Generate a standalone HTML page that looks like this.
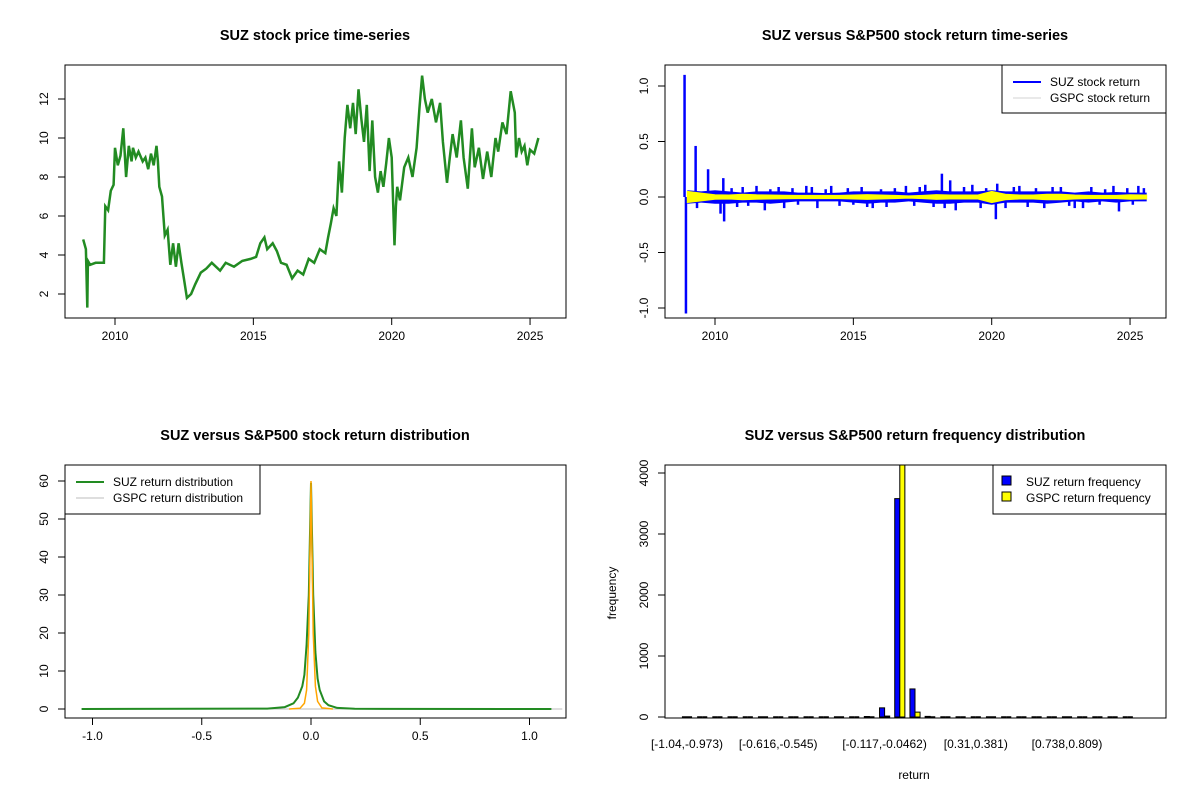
<!DOCTYPE html>
<html><head><meta charset="utf-8"><style>
body{margin:0;background:#fff}
svg{display:block;font-family:"Liberation Sans",Arial,sans-serif}
</style></head><body>
<svg id="s" width="1200" height="800" xmlns="http://www.w3.org/2000/svg"></svg>
<script>
// ---- Data ----
const priceDates=[2008.85,2008.95,2009.0,2009.02,2009.1,2009.3,2009.6,2009.65,2009.75,2009.85,2009.95,2010.0,2010.1,2010.2,2010.3,2010.4,2010.5,2010.6,2010.65,2010.75,2010.85,2011.0,2011.1,2011.2,2011.3,2011.4,2011.5,2011.55,2011.6,2011.7,2011.8,2011.9,2012.0,2012.1,2012.2,2012.3,2012.4,2012.5,2012.6,2012.75,2012.9,2013.1,2013.3,2013.5,2013.8,2014.0,2014.3,2014.6,2014.9,2015.1,2015.25,2015.4,2015.5,2015.7,2015.85,2016.0,2016.2,2016.4,2016.6,2016.8,2017.0,2017.2,2017.4,2017.6,2017.7,2017.8,2017.9,2018.0,2018.1,2018.2,2018.3,2018.4,2018.5,2018.6,2018.7,2018.8,2018.9,2019.0,2019.1,2019.2,2019.3,2019.4,2019.5,2019.6,2019.7,2019.8,2019.9,2020.0,2020.1,2020.15,2020.2,2020.3,2020.45,2020.6,2020.75,2020.9,2021.0,2021.1,2021.2,2021.3,2021.45,2021.6,2021.75,2021.85,2022.0,2022.1,2022.2,2022.35,2022.5,2022.6,2022.75,2022.9,2023.0,2023.15,2023.3,2023.45,2023.6,2023.75,2023.85,2024.0,2024.15,2024.3,2024.45,2024.5,2024.6,2024.7,2024.8,2024.9,2025.0,2025.15,2025.3,2025.45,2025.6];
const priceVals=[4.8,4.3,1.3,3.7,3.5,3.6,3.6,6.5,6.3,7.3,7.6,9.5,8.6,9.1,10.5,8.0,9.6,8.8,9.5,9.0,9.3,8.8,9.0,8.4,9.2,8.6,9.6,8.8,7.5,7.0,5.0,5.3,3.5,4.6,3.4,4.6,3.6,2.7,1.8,2.0,2.5,3.1,3.3,3.6,3.2,3.6,3.4,3.7,3.8,3.9,4.6,4.9,4.3,4.6,4.2,3.6,3.5,2.8,3.2,3.0,3.8,3.6,4.3,4.1,4.9,5.6,6.4,6.0,8.8,7.2,10.0,11.7,10.5,11.8,10.2,12.5,11.0,9.8,11.7,8.3,10.9,8.0,7.2,8.3,7.5,8.7,10.0,9.0,4.5,6.5,7.5,6.8,8.5,9.0,8.0,9.5,11.5,13.2,12.0,11.3,12.0,10.8,11.8,9.8,7.7,9.0,10.2,9.0,10.9,9.0,7.4,10.5,8.5,9.5,7.9,9.3,8.0,10.0,9.3,10.8,10.2,12.4,11.3,9.0,10.0,9.3,9.6,8.6,9.4,9.2,10.0];
const retSpikeDates=[2008.9,2008.95,2009.3,2009.35,2009.75,2010.3,2010.33,2010.2,2010.6,2010.8,2011.0,2011.2,2011.5,2011.8,2012.0,2012.3,2012.5,2012.8,2013.0,2013.3,2013.5,2013.7,2014.0,2014.2,2014.5,2014.8,2015.0,2015.3,2015.5,2015.7,2016.0,2016.2,2016.5,2016.9,2017.2,2017.4,2017.6,2017.9,2018.2,2018.3,2018.5,2018.7,2019.0,2019.3,2019.6,2019.8,2020.15,2020.2,2020.5,2020.8,2021.0,2021.3,2021.6,2021.9,2022.2,2022.5,2022.8,2023.0,2023.3,2023.6,2023.9,2024.1,2024.4,2024.6,2024.9,2025.1,2025.3,2025.5];
const retSpikeVals=[1.1,-1.05,0.46,-0.1,0.25,0.17,-0.22,-0.15,0.08,-0.09,0.09,-0.08,0.1,-0.12,0.07,0.09,-0.1,0.08,-0.07,0.1,0.09,-0.1,0.07,0.1,-0.08,0.08,-0.07,0.09,-0.09,-0.1,0.07,-0.09,0.08,0.1,-0.08,0.09,0.11,-0.09,0.21,-0.1,0.15,-0.12,0.09,0.11,-0.1,0.08,-0.2,0.12,-0.1,0.09,0.1,-0.09,0.08,-0.1,0.09,0.09,-0.08,-0.1,-0.1,0.09,-0.07,0.07,0.1,-0.13,0.08,-0.07,0.1,0.08];
const suzBandYears=[2009,2009.5,2010,2010.5,2011,2011.5,2012,2012.5,2013,2013.5,2014,2014.5,2015,2015.5,2016,2016.5,2017,2017.5,2018,2018.5,2019,2019.5,2020,2020.5,2021,2021.5,2022,2022.5,2023,2023.5,2024,2024.5,2025,2025.6];
const suzBandHi=[0.06,0.05,0.06,0.05,0.04,0.05,0.05,0.05,0.04,0.04,0.035,0.04,0.05,0.05,0.05,0.05,0.04,0.05,0.06,0.05,0.05,0.05,0.06,0.05,0.05,0.05,0.05,0.05,0.04,0.05,0.04,0.045,0.04,0.04];
const suzBandLo=[-0.06,-0.05,-0.06,-0.06,-0.05,-0.05,-0.06,-0.05,-0.04,-0.04,-0.04,-0.04,-0.05,-0.06,-0.05,-0.05,-0.04,-0.05,-0.06,-0.06,-0.05,-0.05,-0.07,-0.05,-0.05,-0.05,-0.06,-0.05,-0.04,-0.05,-0.04,-0.05,-0.04,-0.04];
const gspcBandHi=[0.05,0.035,0.02,0.018,0.025,0.02,0.018,0.016,0.014,0.014,0.014,0.014,0.018,0.022,0.018,0.014,0.01,0.014,0.022,0.018,0.018,0.018,0.05,0.025,0.018,0.018,0.025,0.025,0.018,0.014,0.014,0.014,0.02,0.018];
const densX=[-1.05,-0.2,-0.12,-0.08,-0.06,-0.04,-0.03,-0.02,-0.01,-0.005,0,0.005,0.01,0.02,0.03,0.04,0.06,0.08,0.12,0.2,1.1];
const suzDens=[0,0.1,0.5,1.5,3,6,9,17,30,45,59.5,45,30,15,8,5,2,1,0.3,0.05,0];
const gspcDensX=[-0.1,-0.05,-0.03,-0.02,-0.01,-0.005,0,0.005,0.01,0.02,0.03,0.05,0.1];
const gspcDens=[0,0.2,1.5,5,20,40,60,40,20,6,2,0.3,0];
const binLabels=["[-1.04,-0.973)","[-0.616,-0.545)","[-0.117,-0.0462)","[0.31,0.381)","[0.738,0.809)"];
const binLabelIdx=[0,6,13,19,25];
const suzFreq=[0,0,0,0,0,0,0,0,0,0,0,0,8,150,3580,460,10,0,0,0,0,0,0,0,0,0,0,0,0,0];
const gspcFreq=[0,0,0,0,0,0,0,0,0,0,0,0,0,15,4200,80,0,0,0,0,0,0,0,0,0,0,0,0,0,0];
const priceTicks=[2,4,6,8,10,12];
const yearTicks=[2010,2015,2020,2025];
const retTicks=[-1.0,-0.5,0.0,0.5,1.0];
const densYTicks=[0,10,20,30,40,50,60];
const densXTicks=[-1.0,-0.5,0.0,0.5,1.0];
const freqTicks=[0,1000,2000,3000,4000];

const s=document.getElementById('s');
const NS='http://www.w3.org/2000/svg';
function el(tag,attrs,parent,text){const e=document.createElementNS(NS,tag);for(const k in attrs)e.setAttribute(k,attrs[k]);if(text!==undefined)e.textContent=text;(parent||s).appendChild(e);return e;}
function group(name){const g=el('g',{},s);


return g;}
function box(g,x0,y0,x1,y1){const r=el('rect',{x:x0,y:y0,width:x1-x0,height:y1-y0,fill:'none',stroke:'#000','stroke-width':1},g);

}
function title(g,x,y,t){const e=el('text',{x:x,y:y,'text-anchor':'middle','font-size':14.5,'font-weight':'bold'},g,t);

}
function yAxis(g,x,ticks,sy,fmt){el('line',{x1:x,x2:x,y1:sy(ticks[0]),y2:sy(ticks[ticks.length-1]),stroke:'#000'},g);
ticks.forEach(t=>{const y=sy(t);el('line',{x1:x,x2:x-7,y1:y,y2:y,stroke:'#000'},g);
const tx=el('text',{x:x-17,y:y,'text-anchor':'middle','font-size':12,transform:`rotate(-90 ${x-17} ${y})`},g,fmt(t));

});}
function xAxis(g,y,ticks,sx,fmt){el('line',{x1:sx(ticks[0]),x2:sx(ticks[ticks.length-1]),y1:y,y2:y,stroke:'#000'},g);
ticks.forEach(t=>{const x=sx(t);el('line',{x1:x,x2:x,y1:y,y2:y+7,stroke:'#000'},g);
const tx=el('text',{x:x,y:y+22,'text-anchor':'middle','font-size':12},g,fmt(t));

});}

// ---- Panel 1: price ----
{const g=group('price-panel');
const sx=v=>115+(v-2010)*27.67, sy=v=>294-(v-2)*19.5;
title(g,315,40,'SUZ stock price time-series');
let d='';priceDates.forEach((t,i)=>{d+=(i?'L':'M')+sx(t).toFixed(1)+' '+sy(priceVals[i]).toFixed(1);});
const p=el('path',{d:d,fill:'none',stroke:'#228B22','stroke-width':2.5,'stroke-linejoin':'miter'},g);


box(g,65,65,566,318);
yAxis(g,65,priceTicks,sy,t=>String(t));
xAxis(g,318,yearTicks,sx,t=>String(t));}

// ---- Panel 2: returns ----
{const g=group('returns-panel');
const sx=v=>715+(v-2010)*27.67, sy=v=>197-v*111;
title(g,915,40,'SUZ versus S&P500 stock return time-series');
let d='M'+sx(suzBandYears[0])+' '+sy(suzBandHi[0]);
suzBandYears.forEach((t,i)=>{d+='L'+sx(t).toFixed(1)+' '+sy(suzBandHi[i]).toFixed(1);});
for(let i=suzBandYears.length-1;i>=0;i--)d+='L'+sx(suzBandYears[i]).toFixed(1)+' '+sy(suzBandLo[i]).toFixed(1);
const b=el('path',{d:d+'Z',fill:'#0000FF',stroke:'none'},g);


retSpikeDates.forEach((t,i)=>{const l=el('line',{x1:sx(t),x2:sx(t),y1:sy(0),y2:sy(retSpikeVals[i]),stroke:'#0000FF','stroke-width':2.5},g);

});
let d2='';suzBandYears.forEach((t,i)=>{d2+=(i?'L':'M')+sx(t).toFixed(1)+' '+sy(gspcBandHi[i]).toFixed(1);});
for(let i=suzBandYears.length-1;i>=0;i--)d2+='L'+sx(suzBandYears[i]).toFixed(1)+' '+sy(-gspcBandHi[i]).toFixed(1);
const y=el('path',{d:d2+'Z',fill:'#FFFF00',stroke:'#FFFF00','stroke-width':1},g);


box(g,665,65,1166,318);
yAxis(g,665,retTicks,sy,t=>t.toFixed(1));
xAxis(g,318,yearTicks,sx,t=>String(t));
const lg=el('g',{},g);


el('rect',{x:1002,y:65,width:164,height:48,fill:'#fff',stroke:'#000'},lg);
el('line',{x1:1013,x2:1041,y1:82,y2:82,stroke:'#0000FF','stroke-width':2},lg);
el('line',{x1:1013,x2:1041,y1:98,y2:98,stroke:'#d3d3d3','stroke-width':1},lg);
el('text',{x:1050,y:86,'font-size':12},lg,'SUZ stock return');
el('text',{x:1050,y:102,'font-size':12},lg,'GSPC stock return');}

// ---- Panel 3: density ----
{const g=group('density-panel');
const sx=v=>311+v*218.5, sy=v=>709-v*3.8;
title(g,315,440,'SUZ versus S&P500 stock return distribution');
el('line',{x1:sx(-1.05),x2:sx(1.15),y1:sy(0),y2:sy(0),stroke:'#bebebe'},g);
let d='';densX.forEach((t,i)=>{d+=(i?'L':'M')+sx(t).toFixed(1)+' '+sy(suzDens[i]).toFixed(1);});
const p=el('path',{d:d,fill:'none',stroke:'#228B22','stroke-width':2},g);


let d2='';gspcDensX.forEach((t,i)=>{d2+=(i?'L':'M')+sx(t).toFixed(1)+' '+sy(gspcDens[i]).toFixed(1);});
const q=el('path',{d:d2,fill:'none',stroke:'#FFA500','stroke-width':1.5},g);


box(g,65,465,566,718);
yAxis(g,65,densYTicks,sy,t=>String(t));
xAxis(g,718,densXTicks,sx,t=>t.toFixed(1));
const lg=el('g',{},g);


el('rect',{x:65,y:465,width:195,height:49,fill:'#fff',stroke:'#000'},lg);
el('line',{x1:76,x2:104,y1:482,y2:482,stroke:'#228B22','stroke-width':2},lg);
el('line',{x1:76,x2:104,y1:498,y2:498,stroke:'#bebebe','stroke-width':1},lg);
el('text',{x:113,y:486,'font-size':12},lg,'SUZ return distribution');
el('text',{x:113,y:502,'font-size':12},lg,'GSPC return distribution');}

// ---- Panel 4: histogram ----
{const g=group('frequency-panel');
const gx=i=>687+i*15.2, sy=v=>717-v*0.061;
title(g,915,440,'SUZ versus S&P500 return frequency distribution');
const cp=el('clipPath',{id:'c4'},g);el('rect',{x:665,y:465,width:501,height:253},cp);
const bars=el('g',{'clip-path':'url(#c4)'},g);
function bar(x,v,fill,name){
 if(v<=0){const l=el('line',{x1:x,x2:x+5.07,y1:sy(0),y2:sy(0),stroke:'#000','stroke-width':1.5},bars);
 
 return;}
 const r=el('rect',{x:x,y:sy(v),width:5.07,height:sy(0)-sy(v),fill:fill,stroke:'#000','stroke-width':1},bars);
 
 }
suzFreq.forEach((v,i)=>bar(gx(i)-5.07,v,'#0000FF','suz-frequency-bar'));
gspcFreq.forEach((v,i)=>bar(gx(i),v,'#FFFF00','gspc-frequency-bar'));
box(g,665,465,1166,718);
yAxis(g,665,freqTicks,sy,t=>String(t));
binLabelIdx.forEach((b,k)=>{const t=el('text',{x:gx(b),y:748,'text-anchor':'middle','font-size':12},g,binLabels[k]);

});
const xl=el('text',{x:914,y:779,'text-anchor':'middle','font-size':12},g,'return');


const yl=el('text',{x:616,y:593,'text-anchor':'middle','font-size':12,transform:'rotate(-90 616 593)'},g,'frequency');


const lg=el('g',{},g);


el('rect',{x:993,y:465,width:173,height:49,fill:'#fff',stroke:'#000'},lg);
el('rect',{x:1002,y:476,width:9,height:9,fill:'#0000FF',stroke:'#000'},lg);
el('rect',{x:1002,y:492,width:9,height:9,fill:'#FFFF00',stroke:'#000'},lg);
el('text',{x:1026,y:486,'font-size':12},lg,'SUZ return frequency');
el('text',{x:1026,y:502,'font-size':12},lg,'GSPC return frequency');}
</script>
</body></html>
